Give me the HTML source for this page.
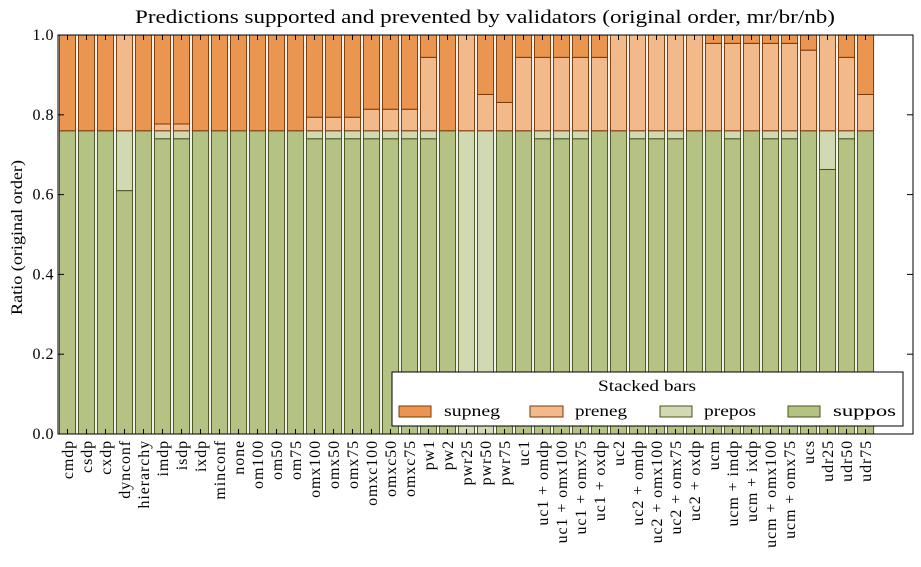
<!DOCTYPE html>
<html><head><meta charset="utf-8"><style>
body{margin:0;background:#fff}
svg text{font-family:"Liberation Serif","DejaVu Serif",serif;fill:#000}
</style></head><body>
<svg id="s" width="921" height="562" xmlns="http://www.w3.org/2000/svg">
<text x="135" y="23" font-size="19" textLength="700" lengthAdjust="spacingAndGlyphs">Predictions supported and prevented by validators (original order, mr/br/nb)</text>
<text transform="translate(22,315) rotate(-90)" font-size="16" textLength="155" lengthAdjust="spacingAndGlyphs">Ratio (original order)</text>
<g id="bars"></g>
<rect x="58" y="35" width="855" height="399" fill="none" stroke="#000" stroke-width="1"/>
<g id="ax"></g>
<g>
<rect x="392" y="372" width="511" height="54" fill="#fff" stroke="#000" stroke-width="1"/>
<text x="598" y="391" font-size="16" textLength="98" lengthAdjust="spacingAndGlyphs">Stacked bars</text>
<rect x="399" y="406" width="32" height="11" fill="#EB9650" stroke="#7a3a0a"/>
<text x="444" y="416" font-size="16" textLength="56" lengthAdjust="spacingAndGlyphs">supneg</text>
<rect x="530" y="406" width="33" height="11" fill="#F2B98A" stroke="#7a3a0a"/>
<text x="575" y="416" font-size="16" textLength="52" lengthAdjust="spacingAndGlyphs">preneg</text>
<rect x="660" y="406" width="32" height="11" fill="#D1D9B2" stroke="#4a5220"/>
<text x="704" y="416" font-size="16" textLength="52" lengthAdjust="spacingAndGlyphs">prepos</text>
<rect x="788" y="406" width="32" height="11" fill="#B4C383" stroke="#4a5220"/>
<text x="833" y="416" font-size="16" textLength="63" lengthAdjust="spacingAndGlyphs">suppos</text>
</g>
</svg>
<script>
var D=[["cmdp",.76,.76,.76],["csdp",.76,.76,.76],["cxdp",.76,.76,.76],["dynconf",.61,.76,1],["hierarchy",.76,.76,.76],
["imdp",.74,.76,.777],["isdp",.74,.76,.777],["ixdp",.76,.76,.76],["minconf",.76,.76,.76],["none",.76,.76,.76],
["om100",.76,.76,.76],["om50",.76,.76,.76],["om75",.76,.76,.76],["omx100",.74,.76,.794],["omx50",.74,.76,.794],["omx75",.74,.76,.794],
["omxc100",.74,.76,.814],["omxc50",.74,.76,.814],["omxc75",.74,.76,.814],["pw1",.74,.76,.944],["pw2",.76,.76,.76],
["pwr25",0,.76,1],["pwr50",0,.76,.851],["pwr75",.76,.76,.831],["uc1",.76,.76,.944],["uc1 + omdp",.74,.76,.944],
["uc1 + omx100",.74,.76,.944],["uc1 + omx75",.74,.76,.944],["uc1 + oxdp",.76,.76,.944],["uc2",.76,.76,1],
["uc2 + omdp",.74,.76,1],["uc2 + omx100",.74,.76,1],["uc2 + omx75",.74,.76,1],["uc2 + oxdp",.76,.76,1],
["ucm",.76,.76,.979],["ucm + imdp",.74,.76,.979],["ucm + ixdp",.76,.76,.979],["ucm + omx100",.74,.76,.979],
["ucm + omx75",.74,.76,.979],["ucs",.76,.76,.962],["udr25",.663,.76,1],["udr50",.74,.76,.944],["udr75",.76,.76,.851]];
var NS="http://www.w3.org/2000/svg",B=document.getElementById("bars"),A=document.getElementById("ax");
function Y(v){return 434-v*399}
function el(p,t,a,txt){var e=document.createElementNS(NS,t);for(var k in a)e.setAttribute(k,a[k]);if(txt)e.textContent=txt;p.appendChild(e);return e}
function seg(x,a,b,f,s){if(b-a<=0)return;el(B,"rect",{x:x,y:Y(b),width:16.15,height:Y(a)-Y(b),fill:f,stroke:s,"stroke-width":1})}
D.forEach(function(d,i){var cx=58+(i+0.5)*19,x=cx-8.07;
seg(x,0,d[1],"#B4C383","#4a5220");seg(x,d[1],d[2],"#D1D9B2","#4a5220");seg(x,d[2],d[3],"#F2B98A","#7a3a0a");seg(x,d[3],1,"#EB9650","#7a3a0a");
el(A,"line",{x1:cx,x2:cx,y1:35,y2:40,stroke:"#000"});el(A,"line",{x1:cx,x2:cx,y1:434,y2:429,stroke:"#000"});
el(A,"text",{transform:"translate("+(cx+5.5)+",440) rotate(-90)","font-size":16,"letter-spacing":"0.9","text-anchor":"end"},d[0]);});
for(var k=0;k<=5;k++){var y=Y(k/5);el(A,"line",{x1:58,x2:64,y1:y,y2:y,stroke:"#000"});el(A,"line",{x1:913,x2:907,y1:y,y2:y,stroke:"#000"});
el(A,"text",{x:54,y:y+5,"font-size":16,"letter-spacing":"0.5","text-anchor":"end"},(k/5).toFixed(1));}
</script>
</body></html>
